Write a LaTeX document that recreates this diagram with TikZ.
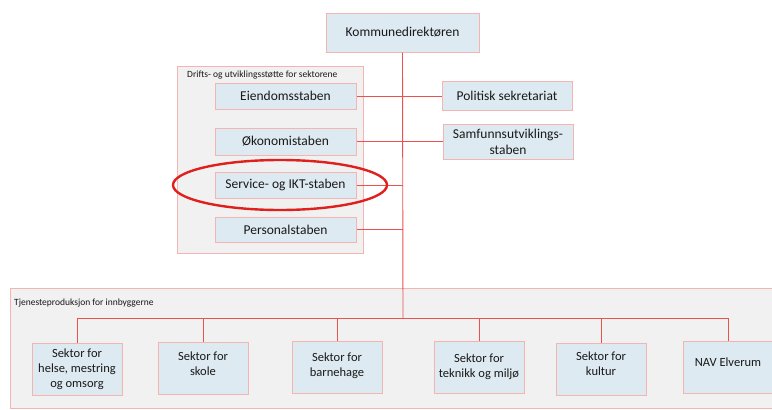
\documentclass[tikz,border=0pt]{standalone}
\usepackage{fontspec}
\setmainfont{Carlito}
\usepackage{tikz}
\definecolor{boxfill}{HTML}{DEEAF1}
\definecolor{boxline}{HTML}{F4B4B1}
\definecolor{grpfill}{HTML}{F1F1F1}
\definecolor{wire}{HTML}{E8534F}
\definecolor{ringred}{HTML}{E0201C}
\tikzset{
  unit/.style={draw=boxline, fill=boxfill, line width=1pt, align=center, inner sep=0pt,
    text=black!90, font=\fontsize{13.5}{16}\selectfont},
  sektor/.style={unit, minimum width=90, minimum height=52, font=\fontsize{12.5}{15}\selectfont},
  group/.style={draw=boxline, fill=grpfill, line width=1pt, inner sep=0pt},
  grouplabel/.style={anchor=west, inner sep=0pt, text=black!90, font=\fontsize{9.5}{11}\selectfont},
  wire/.style={draw=wire, line width=0.9pt}
}
\begin{document}
\begin{tikzpicture}[x=1pt,y=-1pt]
\useasboundingbox (0,0) rectangle (772,410);
\fill[white] (0,0) rectangle (772,410);
\node[group, minimum width=764, minimum height=120] (tjeneste) at (392,348) {};
\node[grouplabel] (tjenestelabel) at (14,303) {Tjenesteproduksjon for innbyggerne};
\node[group, minimum width=186, minimum height=187] (drift) at (270,159.5) {};
\node[grouplabel] (driftlabel) at (187,75) {Drifts- og utviklingsstøtte for sektorene};

\node[unit, minimum width=153, minimum height=39] (kd) at (402.5,32.5) {Kommunedirektøren};
\node[unit, minimum width=141, minimum height=26] (eiendom) at (285.5,96) {Eiendomsstaben};
\node[unit, minimum width=141, minimum height=27] (okonomi) at (285.5,141.5) {Økonomistaben};
\node[unit, minimum width=141, minimum height=26] (service) at (285.5,185) {Service- og IKT-staben};
\node[unit, minimum width=141, minimum height=25] (personal) at (285.5,229.5) {Personalstaben};
\node[unit, minimum width=130, minimum height=29] (politisk) at (507,96) {Politisk sekretariat};
\node[unit, minimum width=130, minimum height=35] (samfunn) at (508,141.5) {Samfunnsutviklings-\\staben};

\node[sektor] (s1) at (77,369) {Sektor for\\helse, mestring\\og omsorg};
\node[sektor] (s2) at (203,368) {Sektor for\\skole\\[-7pt]};
\node[sektor] (s3) at (337,367) {Sektor for\\barnehage\\[-11pt]};
\node[sektor] (s4) at (479,367) {Sektor for\\teknikk og miljø};
\node[sektor] (s5) at (601,369) {Sektor for\\kultur\\[-5pt]};
\node[sektor] (s6) at (728,367) {NAV Elverum\\[-5pt]};

\coordinate (bus) at (403,318);
\draw[wire] (kd.south) -- (bus);
\draw[wire] (eiendom.east) -- (politisk.west);
\draw[wire] (okonomi.east) -- (samfunn.west);
\draw[wire] (service.east) -- (kd.south |- service.east);
\draw[wire] (personal.east) -- (kd.south |- personal.east);
\foreach \s in {s1,s2,s3,s4,s5,s6}
  \draw[wire] (\s.north) |- (bus);

\draw[ringred, line width=2.4pt] (280,185) ellipse [x radius=107pt, y radius=25pt];
\end{tikzpicture}
\end{document}
